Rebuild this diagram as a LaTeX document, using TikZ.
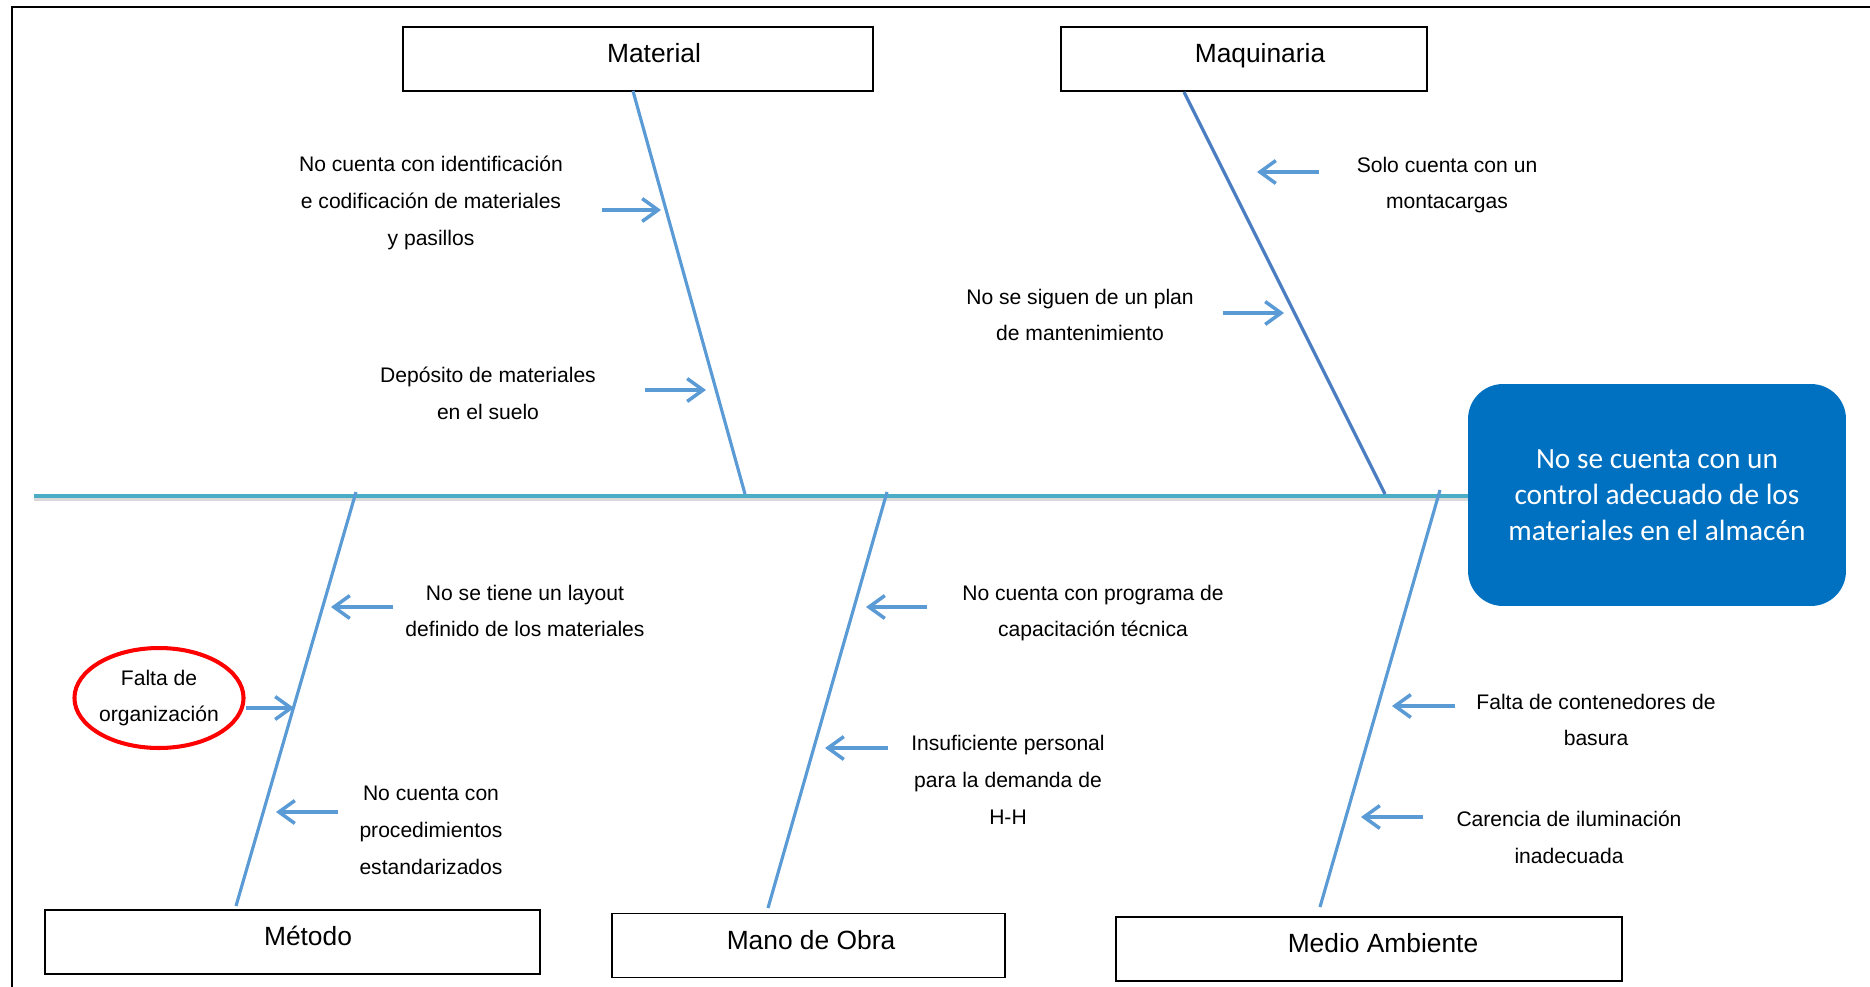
\documentclass[tikz,border=0pt]{standalone}
\usepackage{fontspec}
\setmainfont{Liberation Sans}
\newfontfamily\calibrifont{Carlito}
\usepackage{tikz}
\usetikzlibrary{shapes.geometric,arrows.meta,positioning,calc}
\definecolor{spinecol}{HTML}{4BACC6}
\definecolor{bonecol}{HTML}{5B9BD5}
\definecolor{bonedark}{HTML}{4A7EC0}
\definecolor{effectcol}{HTML}{0070C0}

\begin{document}
\begin{tikzpicture}[x=0.02cm, y=-0.02cm]
  \tikzset{align=center,font=\fontsize{12}{21}\selectfont}
  \tikzset{catbox/.style = {draw, line width=0.9pt, minimum height=1.28cm, inner sep=0pt}}
  \tikzset{cattext/.style = {font=\fontsize{15}{18}\selectfont, inner sep=0pt, text height=11pt, text depth=3pt}}
  \tikzset{cause/.style = {inner sep=0pt}}
  \tikzset{bone/.style = {draw=bonecol, line width=1.8pt}}
  \tikzset{why/.style = {draw=bonecol, line width=2pt, -{Straight Barb[length=9pt,width=13pt]}}}

  \useasboundingbox (0,0) rectangle (1870,987);
  \draw[line width=1.5pt] (12,987) -- (12,7) -- (1870,7);

  % efecto
  \node[fill=effectcol, rounded corners=0.7cm, minimum width=7.56cm, minimum height=4.44cm,
        text=white, font=\calibrifont\fontsize{16.7}{20.5}\selectfont] (efecto) at (1657,495)
        {No se cuenta con un\\control adecuado de los\\materiales en el almacén};

  % espina
  \coordinate (cola) at (34,496);
  \draw[black!15, line width=1.8pt] ([yshift=-1.8pt]cola) -- ([yshift=-1.8pt]efecto.west |- cola);
  \draw[spinecol, line width=2.4pt] (cola) -- (efecto.west |- cola);

  % categorias
  \node[catbox, minimum width=9.4cm] (mat) at (638,59) {};
  \node[cattext] (matl) at (654,55) {Material};
  \node[catbox, minimum width=7.32cm] (maq) at (1244,59) {};
  \node[cattext] (maql) at (1260,55) {Maquinaria};
  \node[catbox, minimum width=9.9cm] (met) at (292.5,942) {};
  \node[cattext] (metl) at (308,938) {Método};
  \node[catbox, minimum width=7.86cm] (mob) at (808.5,945.5) {};
  \node[cattext] (mobl) at (811,942) {Mano de Obra};
  \node[catbox, minimum width=10.12cm] (mam) at (1369,949) {};
  \node[cattext] (maml) at (1383,945) {Medio Ambiente};

  % espinas secundarias
  \coordinate (b1) at (633,91);   \coordinate (j1) at (745,494);
  \coordinate (b2) at (1184,92);  \coordinate (j2) at (1385,494);
  \coordinate (b3) at (236,906);  \coordinate (j3) at (356,492);
  \coordinate (b4) at (768,908);  \coordinate (j4) at (887,492);
  \coordinate (b5) at (1320,907); \coordinate (j5) at (1440,490);
  \draw[bone] (b1) -- (j1);
  \draw[bone, draw=bonedark] (b2) -- (j2);
  \draw[bone] (b3) -- (j3);
  \draw[bone] (b4) -- (j4);
  \draw[bone] (b5) -- (j5);

  % causas
  \node[cause] (c1) at (431,203) {No cuenta con identificación\\e codificación de materiales\\y pasillos};
  \node[cause] (c2) at (488,393) {Depósito de materiales\\en el suelo};
  \node[cause] (c3) at (1447,185) {Solo cuenta con un\\montacargas};
  \node[cause] (c4) at (1080,315) {No se siguen de un plan\\de mantenimiento};
  \node[cause] (c5) at (525,611) {No se tiene un layout\\definido de los materiales};
  \node[draw=red, line width=2.3pt, ellipse, minimum width=3.28cm, minimum height=2cm,
        inner sep=0pt] (c6) at (159,698) {Falta de\\organización};
  \node[cause] (c7) at (431,830) {No cuenta con\\procedimientos\\estandarizados};
  \node[cause] (c8) at (1093,613) {No cuenta con programa de\\capacitación técnica};
  \node[cause] (c9) at (1008,780) {Insuficiente personal\\para la demanda de\\H-H};
  \node[cause] (c10) at (1596,720) {Falta de contenedores de\\basura};
  \node[cause] (c11) at (1569,837) {Carencia de iluminación\\inadecuada};

  % flechas
  \coordinate (t1) at (602,210);  \coordinate (h1) at (661,210);
  \coordinate (t2) at (645,390);  \coordinate (h2) at (706,390);
  \coordinate (t3) at (1319,172); \coordinate (h3) at (1257,172);
  \coordinate (t4) at (1223,313); \coordinate (h4) at (1284,313);
  \coordinate (t5) at (393,607);  \coordinate (h5) at (331,607);
  \coordinate (h6) at (294,708);
  \coordinate (t7) at (338,812);  \coordinate (h7) at (276,812);
  \coordinate (t8) at (927,607);  \coordinate (h8) at (866,607);
  \coordinate (t9) at (888,748);  \coordinate (h9) at (825,748);
  \coordinate (t10) at (1455,706); \coordinate (h10) at (1392,706);
  \coordinate (t11) at (1423,817); \coordinate (h11) at (1361,817);

  \path[every edge/.style={why}]
    (t1) edge (h1)
    (t2) edge (h2)
    (t3) edge (h3)
    (t4) edge (h4)
    (t5) edge (h5)
    (c6.east |- h6) edge (h6)
    (t7) edge (h7)
    (t8) edge (h8)
    (t9) edge (h9)
    (t10) edge (h10)
    (t11) edge (h11);
\end{tikzpicture}
\end{document}
